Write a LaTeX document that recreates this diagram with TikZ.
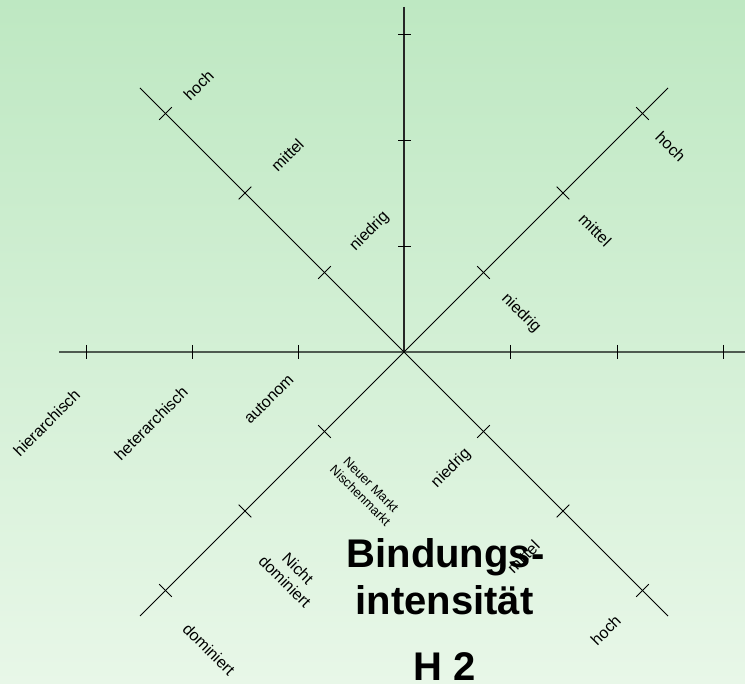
\documentclass[tikz,border=0pt]{standalone}
\usepackage{fontspec}
\setmainfont{Liberation Sans}
\definecolor{bgtop}{RGB}{190,232,194}
\definecolor{bgbot}{RGB}{232,247,232}
\definecolor{axisgray}{RGB}{78,90,80}
\tikzset{
  lbl/.style={inner sep=0pt, font=\fontsize{16}{18.5}\selectfont, align=center},
  smalllbl/.style={inner sep=0pt, font=\fontsize{13}{15}\selectfont, align=center},
  bigtxt/.style={inner sep=0pt, anchor=base, font=\fontsize{40}{48}\selectfont\bfseries},
  haxis/.style={draw=axisgray, line width=1.8pt},
  vaxis/.style={draw=black!85, line width=1.2pt},
  daxis/.style={draw=black, line width=0.9pt},
  tickmark/.style={draw=black, line width=0.9pt}
}
\begin{document}
\begin{tikzpicture}[x=1pt,y=-1pt]
\fill[top color=bgtop, bottom color=bgbot] (0,0) rectangle (745,684);
\useasboundingbox (0,0) rectangle (745,684);

% axis end points
\coordinate (O) at (404,352);
\coordinate (L) at (59,352);
\coordinate (R) at (745,352);
\coordinate (T) at (404,7);
\coordinate (NW) at (140,88);
\coordinate (NE) at (668,88);
\coordinate (SW) at (140,616);
\coordinate (SE) at (668,616);

% axes
\draw[haxis] (L) -- (R);
\draw[vaxis] (T) -- (O);
\draw[daxis] (NW) -- (SE);
\draw[daxis] (NE) -- (SW);

% ticks on horizontal axis
\foreach \x in {86,192,298,510,617,723}
  \draw[tickmark] (\x,345) -- (\x,359);
% ticks on vertical axis
\foreach \y in {34,140,246}
  \draw[tickmark] (398,\y) -- (411,\y);
% ticks on NW and SE diagonals
\foreach \px/\py in {324.5/272.5,245/193,165.5/113.5,483.5/431.5,563/511,642.5/590.5}
  \draw[tickmark] (\px-6.3,\py+6.3) -- (\px+6.3,\py-6.3);
% ticks on NE and SW diagonals
\foreach \px/\py in {483.5/272.5,563/193,642.5/113.5,324.5/431.5,245/511,165.5/590.5}
  \draw[tickmark] (\px-6.3,\py-6.3) -- (\px+6.3,\py+6.3);

% NW labels
\node[lbl, rotate=45] (nwh) at (198.6,85) {hoch};
\node[lbl, rotate=45] (nwm) at (287.4,155) {mittel};
\node[lbl, rotate=45] (nwn) at (369.6,231.7) {niedrig};
% NE labels
\node[lbl, rotate=-45] (neh) at (670.8,146.7) {hoch};
\node[lbl, rotate=-45] (nem) at (595.2,230) {mittel};
\node[lbl, rotate=-45] (nen) at (521,313.3) {niedrig};
% horizontal labels
\node[lbl, rotate=45] (hh) at (46.6,422.7) {hierarchisch};
\node[lbl, rotate=45] (he) at (151,423.3) {heterarchisch};
\node[lbl, rotate=45] (ha) at (268.9,399.3) {autonom};
% SW labels
\node[smalllbl, rotate=-45] (swn) at (365.8,490) {Neuer Markt\\Nischenmarkt};
\node[lbl, rotate=-45] (swm) at (291.5,575) {Nicht\\dominiert};
\node[lbl, rotate=-45] (swd) at (209,649.3) {dominiert};

% big text
\node[bigtxt] (b1) at (445.5,567.3) {Bindungs-};
\node[bigtxt] (b2) at (444.5,615) {intensität};
\node[bigtxt] (b3) at (445,680) {H 2};

% SE labels
\node[lbl, rotate=45] (sen) at (451.3,468.3) {niedrig};
\node[lbl, rotate=45] (sem) at (523.3,556.7) {mittel};
\node[lbl, rotate=45] (seh) at (605.7,630) {hoch};
\end{tikzpicture}
\end{document}
